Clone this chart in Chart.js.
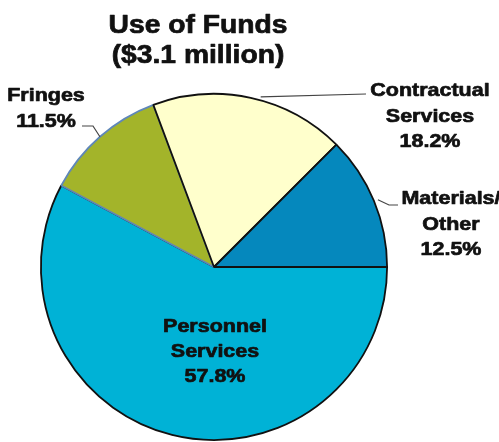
<!DOCTYPE html>
<html>
<head>
<meta charset="utf-8">
<script src="https://cdn.jsdelivr.net/npm/chart.js@4"></script>
<style>
  html, body { margin: 0; padding: 0; background: #fff; }
  #wrap { width: 499px; height: 442px; position: relative; }
</style>
</head>
<body>
<div id="wrap"><canvas id="funds"></canvas></div>
<script>
// Slices listed clockwise from 3 o'clock
const categories = ['Personnel Services', 'Fringes', 'Contractual Services', 'Materials/Other'];
const shares = [57.8, 11.5, 18.2, 12.5];
const labelLines = [['Personnel', 'Services'], ['Fringes'], ['Contractual', 'Services'], ['Materials/', 'Other']];
const sliceColors = ['#00b2d6', '#a3b42a', '#ffffcc', '#0588bd'];
const edgeColors = ['#111111', '#5f87b8', '#111111', '#111111'];
const titleLines = ['Use of Funds', '($3.1 million)'];

const FONT = '"Liberation Sans", Arial, sans-serif';
const STRETCH = 1.13;

function wideText(ctx, text, x, y, size) {
  ctx.save();
  ctx.font = `bold ${size}px ${FONT}`;
  ctx.translate(x, y);
  ctx.scale(STRETCH, 1);
  ctx.lineWidth = 0.7;
  ctx.lineJoin = 'round';
  ctx.strokeStyle = ctx.fillStyle;
  ctx.fillText(text, 0, 0);
  ctx.strokeText(text, 0, 0);
  ctx.restore();
}

// where each label block sits: centre x and baseline of first line
const labelSpots = [
  { x: 215, y: 332, step: 25 },
  { x: 46, y: 101, step: 26 },
  { x: 430, y: 96, step: 25.5 },
  { x: 451, y: 204, step: 25.5 },
];

const pieLabels = {
  id: 'pieLabels',
  afterDatasetsDraw(chart) {
    const ctx = chart.ctx;
    const arcs = chart.getDatasetMeta(0).data;
    ctx.save();
    ctx.fillStyle = '#111';
    ctx.textAlign = 'center';
    ctx.textBaseline = 'alphabetic';

    wideText(ctx, titleLines[0], 198, 33, 25);
    wideText(ctx, titleLines[1], 198, 63, 25);

    // leader lines start at the middle of each outer edge
    const edgePoint = (i) => {
      const a = arcs[i];
      const mid = (a.startAngle + a.endAngle) / 2;
      return [a.x + a.outerRadius * Math.cos(mid), a.y + a.outerRadius * Math.sin(mid)];
    };
    ctx.strokeStyle = '#444';
    ctx.lineWidth = 1.2;

    let p = edgePoint(1);
    ctx.beginPath();
    ctx.moveTo(p[0], p[1]);
    ctx.lineTo(93, 126);
    ctx.lineTo(82, 126);
    ctx.stroke();

    p = edgePoint(2);
    ctx.beginPath();
    ctx.moveTo(p[0] + 10, p[1] - 1);
    ctx.lineTo(366, 94);
    ctx.stroke();

    p = edgePoint(3);
    ctx.beginPath();
    ctx.moveTo(p[0] + 4, p[1] - 1);
    ctx.lineTo(389, 205);
    ctx.lineTo(398, 205);
    ctx.stroke();

    labelLines.forEach((lines, i) => {
      const spot = labelSpots[i];
      const rows = lines.concat([shares[i].toFixed(1) + '%']);
      rows.forEach((t, k) => wideText(ctx, t, spot.x, spot.y + k * spot.step, 19));
    });
    ctx.restore();
  }
};

new Chart(document.getElementById('funds'), {
  type: 'pie',
  data: {
    labels: categories,
    datasets: [{
      data: shares,
      backgroundColor: sliceColors,
      borderColor: edgeColors,
      borderWidth: 1.8,
    }],
  },
  options: {
    responsive: true,
    maintainAspectRatio: false,
    animation: false,
    rotation: 90,
    layout: { padding: { left: 40, right: 111, top: 93, bottom: 1 } },
    plugins: {
      legend: { display: false },
      tooltip: { enabled: false },
      title: { display: false },
    },
  },
  plugins: [pieLabels],
});
</script>
</body>
</html>
